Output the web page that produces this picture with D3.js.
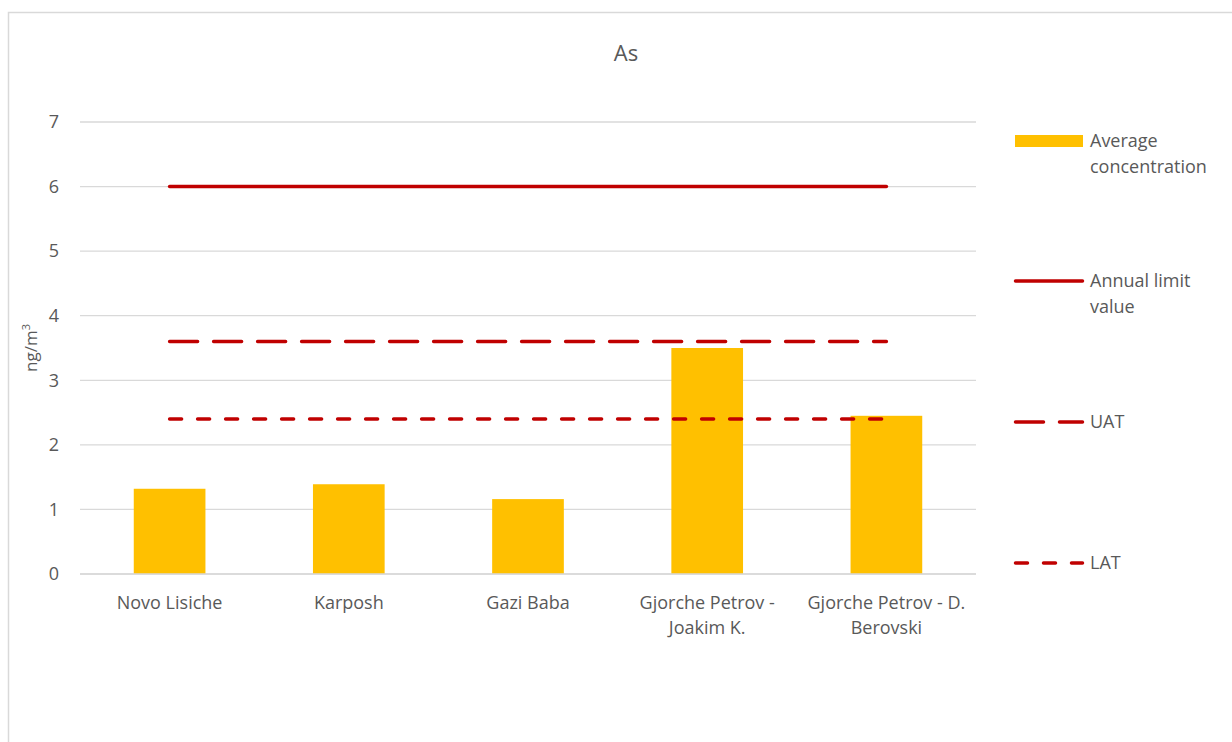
<!DOCTYPE html>
<html>
<head>
<meta charset="utf-8">
<script src="https://cdn.jsdelivr.net/npm/d3@7/dist/d3.min.js"></script>
<style>
  html, body { margin: 0; padding: 0; background: #fff; }
  svg { display: block; font-family: "Open Sans", "Noto Sans", sans-serif; }
</style>
</head>
<body>
<svg id="chart" width="1232" height="742"></svg>
<script>
// Stations and average arsenic concentration (ng/m3)
const categories = [
  ["Novo Lisiche"],
  ["Karposh"],
  ["Gazi Baba"],
  ["Gjorche Petrov -", "Joakim K."],
  ["Gjorche Petrov - D.", "Berovski"]
];
const avgConcentration = [1.32, 1.39, 1.16, 3.50, 2.45];
const annualLimit = [6, 6, 6, 6, 6];
const uat = [3.6, 3.6, 3.6, 3.6, 3.6];
const lat = [2.4, 2.4, 2.4, 2.4, 2.4];
const yTicks = [0, 1, 2, 3, 4, 5, 6, 7];

const names = categories.map(c => c.join(" "));
const svg = d3.select("#chart");
const textColor = "#595959";
const red = "#C00000";
const gold = "#FFC000";

// Outer chart-area frame
svg.append("rect")
  .attr("x", 8.5).attr("y", 12.5)
  .attr("width", 1240).attr("height", 760)
  .attr("fill", "#fff").attr("stroke", "#d9d9d9").attr("stroke-width", 1.5);

const plot = { left: 80, right: 976, top: 122, bottom: 574 };

const x = d3.scaleBand().domain(names).range([plot.left, plot.right]).paddingInner(0.6).paddingOuter(0.3);
const xc = d3.scaleBand().domain(names).range([plot.left, plot.right]);
const y = d3.scaleLinear().domain([0, 7]).range([plot.bottom, plot.top]);

// Title
svg.append("text").attr("x", 626).attr("y", 61).attr("text-anchor", "middle")
  .attr("font-size", 22).attr("fill", textColor).text("As");

// Horizontal gridlines
svg.append("g").selectAll("line").data(yTicks).join("line")
  .attr("x1", plot.left).attr("x2", plot.right)
  .attr("y1", d => y(d)).attr("y2", d => y(d))
  .attr("stroke", "#d9d9d9").attr("stroke-width", 1.3);

// Y axis labels
const yAxis = svg.append("g").attr("transform", `translate(${plot.left},0)`)
  .call(d3.axisLeft(y).tickValues(yTicks).tickSize(0).tickPadding(21).tickFormat(d3.format("d")));
yAxis.select(".domain").remove();
yAxis.selectAll("text").attr("font-size", 18).attr("fill", textColor)
  .attr("font-family", "'Open Sans', sans-serif");

// Y axis title
const yt = svg.append("text").attr("transform", "translate(37,348) rotate(-90)")
  .attr("text-anchor", "middle").attr("font-size", 17).attr("fill", textColor);
yt.append("tspan").text("ng/m");
yt.append("tspan").attr("font-size", 11).attr("dy", -7).text("3");

// Bars
svg.append("g").selectAll("rect").data(avgConcentration).join("rect")
  .attr("x", (d, i) => x(names[i]))
  .attr("width", x.bandwidth())
  .attr("y", d => y(d))
  .attr("height", d => y(0) - y(d))
  .attr("fill", gold);

// Baseline
svg.append("line").attr("x1", plot.left).attr("x2", plot.right)
  .attr("y1", y(0)).attr("y2", y(0)).attr("stroke", "#d9d9d9").attr("stroke-width", 1.3);

// Reference lines
const lineGen = d3.line()
  .x((d, i) => xc(names[i]) + xc.bandwidth() / 2)
  .y(d => y(d));
const refs = [
  { data: annualLimit, dash: null },
  { data: uat, dash: "28,16" },
  { data: lat, dash: "12,16" }
];
refs.forEach(r => {
  svg.append("path").attr("d", lineGen(r.data))
    .attr("fill", "none").attr("stroke", red).attr("stroke-width", 3.5)
    .attr("stroke-linecap", "round")
    .attr("stroke-dasharray", r.dash);
});

// X axis category labels
const xl = svg.append("g").selectAll("text").data(categories).join("text")
  .attr("x", (d, i) => xc(names[i]) + xc.bandwidth() / 2)
  .attr("y", 609)
  .attr("text-anchor", "middle").attr("font-size", 18).attr("fill", textColor);
xl.each(function(d) {
  const t = d3.select(this);
  d.forEach((line, k) => {
    t.append("tspan").attr("x", t.attr("x")).attr("dy", k === 0 ? 0 : 25).text(line);
  });
});

// Legend
const legendItems = [
  { label: ["Average", "concentration"], type: "bar", y: 141 },
  { label: ["Annual limit", "value"], type: "line", dash: null, y: 281 },
  { label: ["UAT"], type: "line", dash: "28,16", y: 422 },
  { label: ["LAT"], type: "line", dash: "12,16", y: 563 }
];
const lg = svg.append("g");
legendItems.forEach(it => {
  if (it.type === "bar") {
    lg.append("rect").attr("x", 1015).attr("y", it.y - 6).attr("width", 68).attr("height", 12).attr("fill", gold);
  } else {
    lg.append("line").attr("x1", 1015.5).attr("x2", 1082.5).attr("y1", it.y).attr("y2", it.y)
      .attr("stroke", red).attr("stroke-width", 3.5).attr("stroke-linecap", "round")
      .attr("stroke-dasharray", it.dash);
  }
  const t = lg.append("text").attr("x", 1090).attr("y", it.y + 6)
    .attr("font-size", 18).attr("fill", textColor);
  it.label.forEach((l, k) => t.append("tspan").attr("x", 1090).attr("dy", k === 0 ? 0 : 26).text(l));
});
</script>
</body>
</html>
